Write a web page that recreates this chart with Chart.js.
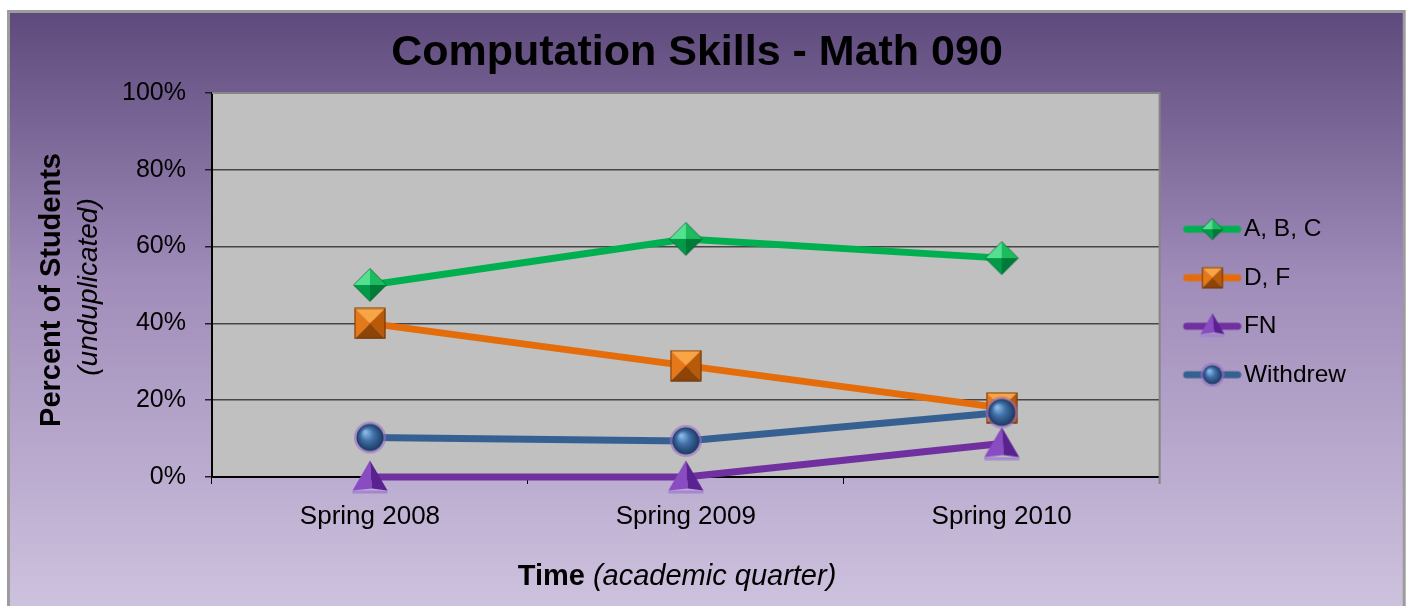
<!DOCTYPE html>
<html><head><meta charset="utf-8">
<script src="https://cdn.jsdelivr.net/npm/chart.js@4.4.1/dist/chart.umd.min.js"></script>
<style>html,body{margin:0;padding:0;background:#fff;overflow:hidden}canvas{display:block}</style>
</head><body>
<canvas id="c" width="1410" height="606"></canvas>
<script>
// ---- data ----
const chartTitle = 'Computation Skills - Math 090';
const categories = ['Spring 2008', 'Spring 2009', 'Spring 2010'];
const seriesNames = ['A, B, C', 'D, F', 'FN', 'Withdrew'];
const abc = [50, 62, 57];
const df = [40, 29, 18];
const fn = [0, 0, 8.7];
const withdrew = [10.3, 9.4, 16.8];
const yTickLabels = ['0%', '20%', '40%', '60%', '80%', '100%'];
const yTitleMain = 'Percent of Students';
const yTitleSub = '(unduplicated)';
const xTitleMain = 'Time';
const xTitleSub = '(academic quarter)';

const FONT = '"Liberation Sans", Arial, sans-serif';
const COLORS = ['#00b050', '#e46c0a', '#7030a0', '#376092'];

// ---- marker painters ----
function mk(w, h, fn) { const c = document.createElement('canvas'); c.width = w; c.height = h; fn(c.getContext('2d'), w, h); return c; }
function poly(g, pts, fill) { g.beginPath(); g.moveTo(pts[0][0], pts[0][1]); for (let i = 1; i < pts.length; i++) g.lineTo(pts[i][0], pts[i][1]); g.closePath(); g.fillStyle = fill; g.fill(); }
function diamond(g, cx, cy, s) {
  const h = s / 2, T = [cx, cy - h], R = [cx + h, cy], B = [cx, cy + h], L = [cx - h, cy], C = [cx, cy];
  poly(g, [T, L, C], '#55df90'); poly(g, [T, R, C], '#1cbb5e');
  poly(g, [B, R, C], '#007a38'); poly(g, [B, L, C], '#009a48');
  g.beginPath(); g.moveTo(T[0], T[1]); g.lineTo(R[0], R[1]); g.lineTo(B[0], B[1]); g.lineTo(L[0], L[1]); g.closePath();
  g.strokeStyle = 'rgba(0,100,45,0.7)'; g.lineWidth = 1; g.stroke();
}
function square(g, cx, cy, s) {
  const h = s / 2, TL = [cx - h, cy - h], TR = [cx + h, cy - h], BR = [cx + h, cy + h], BL = [cx - h, cy + h], C = [cx, cy];
  poly(g, [TL, TR, C], '#f9a545'); poly(g, [TR, BR, C], '#b85a0a');
  poly(g, [BR, BL, C], '#8e4407'); poly(g, [BL, TL, C], '#e5781a');
  g.strokeStyle = 'rgba(90,40,0,0.8)'; g.lineWidth = 1; g.strokeRect(cx - h + 0.5, cy - h + 0.5, s - 1, s - 1);
}
function tri(g, cx, cy, w, hgt) {
  const A = [cx, cy - hgt / 2], BL = [cx - w / 2, cy + hgt / 2 - 3], BR = [cx + w / 2, cy + hgt / 2 - 3], F = [cx + 2, cy + hgt / 2 - 5];
  poly(g, [BL, BR, [BR[0], BR[1] + 3], [BL[0], BL[1] + 3]], '#a487cf');
  poly(g, [A, BL, F], '#8a4cc2'); poly(g, [A, F, BR], '#5a2190');
}
function sphere(g, cx, cy, r) {
  g.beginPath(); g.arc(cx, cy, r + 2.5, 0, Math.PI * 2); g.fillStyle = 'rgba(150,110,200,0.6)'; g.fill();
  const gr = g.createRadialGradient(cx - r * 0.35, cy - r * 0.4, 1, cx, cy, r);
  gr.addColorStop(0, '#8ab8e6'); gr.addColorStop(0.45, '#3f6fa6'); gr.addColorStop(1, '#1d3861');
  g.beginPath(); g.arc(cx, cy, r, 0, Math.PI * 2); g.fillStyle = gr; g.fill();
}
const pointImgs = [
  mk(36, 36, g => diamond(g, 18, 18, 33)),
  mk(32, 32, g => square(g, 16, 16, 31)),
  mk(36, 34, g => tri(g, 18, 17, 35, 33)),
  mk(34, 34, g => sphere(g, 17, 17, 13.5))
];
function legendImg(i) {
  return mk(68, 28, g => {
    g.strokeStyle = COLORS[i]; g.lineWidth = 7; g.lineCap = 'round';
    g.beginPath(); g.moveTo(13, 14); g.lineTo(64, 14); g.stroke();
    const mx = 38.75;
    if (i === 0) diamond(g, mx, 14, 21);
    else if (i === 1) square(g, mx, 14, 21);
    else if (i === 2) tri(g, mx, 13, 24, 24);
    else sphere(g, mx, 14, 9.5);
  });
}
const legendImgs = [0, 1, 2, 3].map(legendImg);

// ---- decorations plugin ----
const deco = {
  id: 'deco',
  beforeDraw(chart) {
    const g = chart.ctx, a = chart.chartArea;
    g.save();
    g.fillStyle = '#fff'; g.fillRect(0, 0, chart.width, chart.height);
    const grad = g.createLinearGradient(0, 10, 0, 606);
    grad.addColorStop(0, '#5d497b'); grad.addColorStop(0.45, '#a08cb9'); grad.addColorStop(1, '#cdc2de');
    g.fillStyle = grad; g.fillRect(8, 10, 1397, 596);
    g.strokeStyle = '#9c9c9c'; g.lineWidth = 3;
    g.beginPath(); g.moveTo(8.5, 606); g.lineTo(8.5, 11.5); g.lineTo(1404.2, 11.5); g.lineTo(1404.2, 606); g.stroke();
    g.fillStyle = '#c0c0c0'; g.fillRect(a.left, a.top, a.right - a.left, a.bottom - a.top);
    g.restore();
  },
  beforeDatasetsDraw(chart) {
    const g = chart.ctx, a = chart.chartArea;
    g.save(); g.strokeStyle = '#858585'; g.lineWidth = 2;
    g.beginPath(); g.moveTo(a.left, a.top); g.lineTo(a.right, a.top); g.lineTo(a.right, a.bottom + 7); g.stroke();
    g.restore();
  },
  afterDraw(chart) {
    const g = chart.ctx;
    g.save();
    g.fillStyle = '#000'; g.textAlign = 'center'; g.textBaseline = 'middle';
    g.save(); g.translate(52, 290); g.rotate(-Math.PI / 2); g.font = 'bold 29px ' + FONT; g.fillText(yTitleMain, 0, 0); g.restore();
    g.save(); g.translate(89, 287); g.rotate(-Math.PI / 2); g.font = 'italic 28px ' + FONT; g.fillText(yTitleSub, 0, 0); g.restore();
    g.textAlign = 'left';
    g.font = 'bold 29px ' + FONT; const w1 = g.measureText(xTitleMain).width;
    g.font = 'italic 29px ' + FONT; const sp = g.measureText(' ').width, w2 = g.measureText(xTitleSub).width;
    const x0 = 677 - (w1 + sp + w2) / 2;
    g.font = 'bold 29px ' + FONT; g.fillText(xTitleMain, x0, 577);
    g.font = 'italic 29px ' + FONT; g.fillText(xTitleSub, x0 + w1 + sp, 577);
    g.restore();
  }
};

const seriesData = [abc, df, fn, withdrew];
const datasets = seriesNames.map((name, i) => ({
  label: name,
  data: seriesData[i],
  borderColor: COLORS[i],
  backgroundColor: COLORS[i],
  borderWidth: 7,
  tension: 0,
  pointStyle: pointImgs[i],
  pointRadius: 15,
  pointHoverRadius: 15,
  clip: false,
  order: 4 - i
}));

new Chart(document.getElementById('c'), {
  type: 'line',
  data: { labels: categories, datasets },
  plugins: [deco],
  options: {
    responsive: false,
    devicePixelRatio: 1,
    animation: false,
    events: [],
    layout: { padding: { top: 10, bottom: 12, left: 38, right: 54 } },
    plugins: {
      title: { display: true, text: chartTitle, color: '#000', font: { family: FONT, size: 43, weight: 'bold' }, padding: { top: 17, bottom: 14.4 } },
      tooltip: { enabled: false },
      legend: {
        position: 'right',
        labels: {
          usePointStyle: true,
          pointStyleWidth: 48,
          padding: 24,
          color: '#000',
          font: { family: FONT, size: 24.5 },
          sort: (a, b) => a.datasetIndex - b.datasetIndex,
          generateLabels(chart) {
            const items = Chart.defaults.plugins.legend.labels.generateLabels(chart);
            items.forEach(it => { it.pointStyle = legendImgs[it.datasetIndex]; });
            return items;
          }
        }
      }
    },
    scales: {
      x: {
        offset: true,
        afterFit(s) { s.height = 117; },
        grid: { display: true, drawOnChartArea: false, drawTicks: true, tickLength: 7, color: '#000', tickColor: '#000', offset: true },
        border: { display: true, color: '#000', width: 2 },
        ticks: { color: '#000', padding: 17, font: { family: FONT, size: 26 } }
      },
      y: {
        min: 0, max: 100,
        afterFit(s) { s.width = 174; },
        grid: { lineWidth: 1.5, tickLength: 7, tickColor: '#222', color: c => c.tick && c.tick.value === 100 ? '#858585' : '#454545' },
        border: { display: true, color: '#000', width: 2 },
        ticks: { stepSize: 20, padding: 19, color: '#000', font: { family: FONT, size: 25 }, callback: (v, idx) => yTickLabels[idx] }
      }
    }
  }
});
</script>
</body></html>
